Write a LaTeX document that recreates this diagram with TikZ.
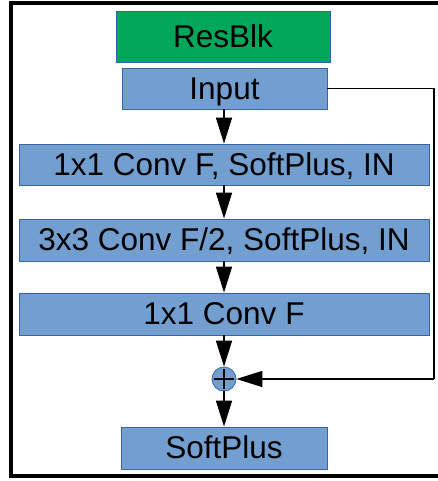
\documentclass[tikz,border=0pt]{standalone}
\usepackage{fontspec}
\setmainfont{Liberation Sans}
\usetikzlibrary{arrows.meta}
\definecolor{boxblue}{HTML}{729FCF}
\definecolor{boxedge}{HTML}{3465A4}
\definecolor{boxgreen}{HTML}{00A65A}
\begin{document}
\begin{tikzpicture}[x=1pt,y=-1pt,
  blk/.style={draw=boxedge,line width=0.8pt,fill=boxblue,minimum height=41pt,inner sep=0pt,
    font=\fontsize{31.5}{36}\selectfont,text height=21.5pt,text depth=-1pt},
  conn/.style={line width=1.5pt,-{Triangle[length=26pt,width=16pt]}},
  skip/.style={line width=1.2pt}]
\useasboundingbox (0,0) rectangle (438,481);
\draw[line width=4pt] (441,3.3) -- (10.5,3.3) -- (10.5,476.3) -- (441,476.3);
\node[blk,fill=boxgreen,draw=boxedge,minimum width=214pt,minimum height=51pt] (res) at (223,36.5) {ResBlk};
\node[blk,minimum width=205pt] (inp) at (224.5,88.5) {Input};
\node[blk,minimum width=410pt] (c1) at (224,164.5) {1x1 Conv F, SoftPlus, IN};
\node[blk,minimum width=410pt,minimum height=42pt] (c2) at (224,240) {3x3 Conv F/2, SoftPlus, IN};
\node[blk,minimum width=410pt,minimum height=42pt] (c3) at (224,314) {1x1 Conv F};
\node[circle,draw=boxedge,line width=0.8pt,fill=boxblue,minimum size=24pt,inner sep=0pt] (plus) at (224,379) {};
\draw[line width=2.4pt] ([xshift=-10pt]plus.center) -- ([xshift=10pt]plus.center)
  ([yshift=-10pt]plus.center) -- ([yshift=10pt]plus.center);
\node[blk,minimum width=206pt,minimum height=42pt] (sp) at (224,448) {SoftPlus};
\coordinate (k1) at (434,88.5);
\coordinate (k2) at (434,379);
\draw[conn] (inp.south -| c1.north) -- (c1.north);
\draw[conn] (c1.south) -- (c2.north);
\draw[conn] (c2.south) -- (c3.north);
\draw[conn] (c3.south) -- (plus.north);
\draw[conn] (plus.south) -- (sp.north);
\draw[skip] (inp.east) -- (k1) -- (k2);
\draw[conn,line width=1.2pt] (k2) -- (plus.east);
\end{tikzpicture}
\end{document}
